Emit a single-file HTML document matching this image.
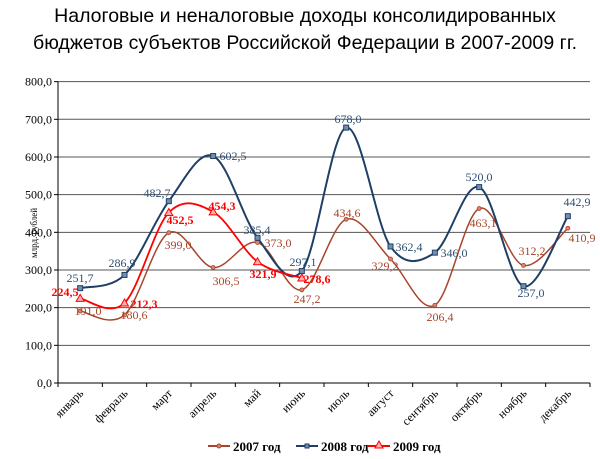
<!DOCTYPE html>
<html><head><meta charset="utf-8"><style>
html,body{margin:0;padding:0;background:#fff;}
svg{display:block;}
</style></head><body>
<svg id="s" width="600" height="459" xmlns="http://www.w3.org/2000/svg" font-family="Liberation Serif, serif">
<text x="305" y="22" text-anchor="middle" font-family="Liberation Sans, sans-serif" font-size="19.5" fill="#000">Налоговые и неналоговые доходы консолидированных</text>
<text x="305" y="49" text-anchor="middle" font-family="Liberation Sans, sans-serif" font-size="19.5" textLength="544" fill="#000">бюджетов субъектов Российской Федерации в 2007-2009 гг.</text>
<g id="g"></g>
</svg>
<script>
var NS="http://www.w3.org/2000/svg",g=document.getElementById('g');
function el(t,a,txt){var e=document.createElementNS(NS,t);for(var k in a)e.setAttribute(k,a[k]);if(txt!=null)e.textContent=txt;g.appendChild(e);return e;}
var L=58,R=590;function Y(v){return 383-v*0.3767;}function X(i){return L+(R-L)/12*(i+0.5);}
for(var v=0;v<=800;v+=100){var y=Y(v);if(v>0)el('line',{x1:L,x2:R,y1:y,y2:y,stroke:'#555','stroke-width':1});
el('line',{x1:L-4,x2:L,y1:y,y2:y,stroke:'#000'});
el('text',{x:L-6,y:y+4,'text-anchor':'end','font-size':12},v.toFixed(1).replace('.',','));}
el('line',{x1:L,x2:L,y1:Y(800),y2:383,stroke:'#000'});
el('line',{x1:L,x2:R,y1:383,y2:383,stroke:'#000'});
var m=['январь','февраль','март','апрель','май','июнь','июль','август','сентябрь','октябрь','ноябрь','декабрь'];
for(var i=0;i<=12;i++){var x=L+(R-L)/12*i;el('line',{x1:x,x2:x,y1:383,y2:387,stroke:'#000'});}
for(var i=0;i<12;i++){var x=X(i)+4,y=394;el('text',{x:x,y:y,'text-anchor':'end','font-size':12,transform:'rotate(-45 '+x+' '+y+')'},m[i]);}
el('text',{x:0,y:0,'font-size':9,'text-anchor':'middle',transform:'translate(37 233) rotate(-90)'},'млрд. рублей');
function path(d,c,w){var p=d.map(function(v,i){return[X(i),Y(v)]});var s='M'+p[0][0]+','+p[0][1];
for(var i=0;i<p.length-1;i++){var p0=p[i-1]||p[i],p1=p[i],p2=p[i+1],p3=p[i+2]||p2;
s+=' C'+(p1[0]+(p2[0]-p0[0])/6)+','+(p1[1]+(p2[1]-p0[1])/6)+' '+(p2[0]-(p3[0]-p1[0])/6)+','+(p2[1]-(p3[1]-p1[1])/6)+' '+p2[0]+','+p2[1];}
el('path',{d:s,fill:'none',stroke:c,'stroke-width':w});return p;}
var d7=[191.0,180.6,399.0,306.5,373.0,247.2,434.6,329.2,206.4,463.1,312.2,410.9],
d8=[251.7,286.9,482.7,602.5,385.4,297.1,678.0,362.4,346.0,520.0,257.0,442.9],
d9=[224.5,212.3,452.5,454.3,321.9,278.6];
var c7='#a8452a',c8='#1f3f66',c9='#ff0000';
var p7=path(d7,c7,1.5),p8=path(d8,c8,2),p9=path(d9,c9,1.8);
p7.forEach(function(p){el('circle',{cx:p[0],cy:p[1],r:2,fill:'#e08070',stroke:c7,'stroke-width':0.8});});
p8.forEach(function(p){el('rect',{x:p[0]-2.5,y:p[1]-2.5,width:5,height:5,fill:'#7090b0',stroke:c8,'stroke-width':1});});
p9.forEach(function(p){el('polygon',{points:(p[0])+','+(p[1]-4)+' '+(p[0]-4)+','+(p[1]+3)+' '+(p[0]+4)+','+(p[1]+3),fill:'#ffb0b0',stroke:c9,'stroke-width':1});});
function lab(list,pos,c,b){list.forEach(function(v,i){el('text',{x:pos[i][0],y:pos[i][1]+4,'text-anchor':'middle','font-size':12,fill:c,'font-weight':b?'bold':'normal'},v.toFixed(1).replace('.',','));});}
lab(d8,[[80,278],[122,263],[157,193],[233,156],[257,230],[303,262],[348,119],[409,247],[454,253],[479,177],[531,293],[577,202]],'#2f4f70');
lab(d7,[[88,311],[134,315],[178,245],[226,281],[278,243],[307,299],[347,213],[385,266],[440,317],[483,223],[532,251],[582,238]],c7);
lab(d9,[[65,292],[144,304],[180,220],[222,206],[263,274],[317,279]],c9,true);
function leg(x,c,t,k){el('line',{x1:x,x2:x+22,y1:446,y2:446,stroke:c,'stroke-width':2});
if(k==0)el('circle',{cx:x+11,cy:446,r:2,fill:'#e08070',stroke:c});
if(k==1)el('rect',{x:x+9,y:444,width:4,height:4,fill:'#7090b0',stroke:c});
if(k==2)el('polygon',{points:(x+11)+',441 '+(x+7)+',448 '+(x+15)+',448',fill:'#ffb0b0',stroke:c});
el('text',{x:x+25,y:451,'font-size':13,'font-weight':'bold'},t);}
leg(208,c7,'2007 год',0);leg(296,c8,'2008 год',1);leg(368,c9,'2009 год',2);
</script>
</body></html>
